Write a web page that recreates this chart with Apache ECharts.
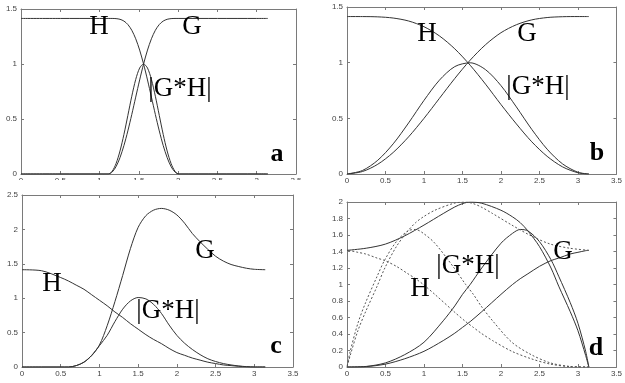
<!DOCTYPE html>
<html><head><meta charset="utf-8">
<script src="https://cdn.jsdelivr.net/npm/echarts@6.0.0/dist/echarts.min.js"></script>
<style>html,body{margin:0;padding:0;background:#fff}#c{width:625px;height:383px}</style>
</head><body><div id="c"></div>
<script>
// ---- Panel a ----
const xA = [0, 0.5, 1.0, 1.11, 1.16, 1.21, 1.26, 1.31, 1.36, 1.41, 1.46, 1.51, 1.56, 1.61, 1.66, 1.71, 1.76, 1.81, 1.86, 1.91, 1.96, 2.01, 2.5, 3.0, 3.1416];
const hA = [1.4142,1.4142,1.4142,1.4142,1.4141,1.4126,1.4063,1.3903,1.3589,1.3066,1.2295,1.1266,1.0,0.8548,0.6989,0.5412,0.3919,0.2589,0.1491,0.0674,0.0177,0,0,0,0];
const gA = [0,0,0,0,0.0177,0.0674,0.1491,0.2589,0.3919,0.5412,0.6989,0.8548,1.0,1.1266,1.2295,1.3066,1.3589,1.3903,1.4063,1.4126,1.4141,1.4142,1.4142,1.4142,1.4142];
const bA = [0,0,0,0,0.0246,0.0953,0.2094,0.3598,0.5326,0.7071,0.8593,0.9631,1,0.9631,0.8593,0.7071,0.5326,0.3598,0.2094,0.0953,0.0246,0,0,0,0];
// ---- Panel b ----
const xB = [0,0.2,0.4,0.6,0.8,1.0,1.2,1.4,1.6,1.8,2.0,2.2,2.4,2.6,2.8,3.0,3.1416];
const hB = [1.4142,1.4140,1.4115,1.4009,1.3743,1.3230,1.2405,1.1242,0.9768,0.8066,0.6241,0.4500,0.2895,0.1586,0.0641,0.0111,0];
const gB = [0,0.0221,0.0876,0.1934,0.3337,0.4996,0.6790,0.8580,1.0226,1.1617,1.2690,1.3407,1.3843,1.4053,1.4128,1.4142,1.4142];
const bB = [0,0.0313,0.1237,0.2709,0.4586,0.6610,0.8424,0.9646,0.9989,0.9370,0.7940,0.6025,0.4008,0.2229,0.0907,0.0157,0];
// ---- Panel c ----
const xC = [0,0.25,0.5,0.6,0.7,0.8,0.9,1.0,1.1,1.2,1.3,1.4,1.5,1.6,1.7,1.8,1.9,2.0,2.1,2.2,2.3,2.4,2.5,2.6,2.7,2.8,2.9,3.0,3.1416];
const hC = [1.414,1.40,1.30,1.25,1.19,1.13,1.05,0.97,0.89,0.80,0.72,0.63,0.55,0.47,0.40,0.34,0.27,0.21,0.17,0.13,0.10,0.07,0.05,0.03,0.02,0.01,0.005,0,0];
const gC = [0,0,0,0,0.02,0.07,0.17,0.32,0.6,0.95,1.33,1.72,2.03,2.2,2.28,2.305,2.28,2.21,2.09,1.94,1.82,1.71,1.61,1.54,1.49,1.46,1.435,1.42,1.414];
const bC = [0,0,0,0,0.02,0.07,0.165,0.31,0.46,0.66,0.84,0.96,1.01,0.99,0.91,0.78,0.61,0.46,0.345,0.255,0.18,0.12,0.08,0.05,0.03,0.015,0.005,0,0];
// ---- Panel d (solid) ----
const xD = [0,0.25,0.5,0.75,1.0,1.25,1.4,1.5,1.6,1.75,2.0,2.15,2.25,2.35,2.5,2.65,2.75,2.9,3.0,3.1,3.1416];
const hD = [1.414,1.44,1.49,1.59,1.72,1.86,1.94,1.98,2.0,1.985,1.9,1.82,1.75,1.65,1.46,1.2,0.98,0.67,0.44,0.14,0];
const gD = [0,0.005,0.035,0.1,0.19,0.32,0.41,0.48,0.55,0.67,0.88,1.0,1.07,1.13,1.22,1.29,1.32,1.37,1.39,1.41,1.414];
const bD = [0,0.007,0.05,0.15,0.3,0.56,0.74,0.88,1.0,1.2,1.5,1.62,1.667,1.65,1.52,1.3,1.1,0.78,0.53,0.19,0];
// ---- Panel d (dotted) ----
const xDd = [3.1416,2.8916,2.6416,2.3916,2.1416,1.8916,1.7416,1.6416,1.5416,1.3916,1.1416,0.9916,0.8916,0.7916,0.6416,0.4916,0.3916,0.2416,0.1416,0.0416,0];
const hDd = [0,0.005,0.035,0.1,0.19,0.32,0.41,0.48,0.55,0.67,0.88,1.0,1.07,1.13,1.22,1.29,1.32,1.37,1.39,1.41,1.414];
const gDd = [1.414,1.44,1.49,1.59,1.72,1.86,1.94,1.98,2.0,1.985,1.9,1.82,1.75,1.65,1.46,1.2,0.98,0.67,0.44,0.14,0];
const bDd = [0,0.007,0.05,0.15,0.3,0.56,0.74,0.88,1.0,1.2,1.5,1.62,1.667,1.65,1.52,1.3,1.1,0.78,0.53,0.19,0];
// axes
const xMax = 3.5, xStep = 0.5;
const yMaxes = [1.5, 1.5, 2.5, 2];
const ySteps = [0.5, 0.5, 0.5, 0.2];

const zip = (xs, ys) => xs.map((x, i) => [x, ys[i]]);
const grids = [
  {left: 21, top: 9, width: 275, height: 165},
  {left: 347, top: 7, width: 272, height: 167},
  {left: 22, top: 195, width: 271, height: 172},
  {left: 347, top: 202, width: 272, height: 165}
];
const axisCol = '#7a7a7a';
const lab = {fontSize: 8, color: '#444', fontFamily: 'Liberation Sans'};
const xAxes = [], yAxes = [];
grids.forEach((g, i) => {
  const common = {gridIndex: i, type: 'value', splitLine: {show: false},
    axisLine: {show: true, onZero: false, lineStyle: {color: axisCol, width: 1}},
    axisTick: {show: true, inside: true, length: 3, lineStyle: {color: axisCol}}};
  xAxes.push(Object.assign({}, common, {position: 'bottom', min: 0, max: xMax, interval: xStep,
    axisLabel: Object.assign({margin: 3, showMinLabel: true, showMaxLabel: true}, lab)}));
  xAxes.push(Object.assign({}, common, {position: 'top', min: 0, max: xMax, interval: xStep, axisLabel: {show: false}}));
  yAxes.push(Object.assign({}, common, {position: 'left', min: 0, max: yMaxes[i], interval: ySteps[i],
    axisLabel: Object.assign({margin: 4, showMinLabel: true, showMaxLabel: true}, lab)}));
  yAxes.push(Object.assign({}, common, {position: 'right', min: 0, max: yMaxes[i], interval: ySteps[i], axisLabel: {show: false}}));
});
function ln(panel, xs, ys, dotted) {
  return {type: 'line', xAxisIndex: panel * 2, yAxisIndex: panel * 2, data: zip(xs, ys),
    showSymbol: false, symbol: 'none', smooth: 0.3, animation: false,
    lineStyle: {color: dotted ? '#555' : '#333', width: 1, type: dotted ? [2, 2] : 'solid'}};
}
const series = [
  ln(0, xA, hA), ln(0, xA, gA), ln(0, xA, bA),
  ln(1, xB, hB), ln(1, xB, gB), ln(1, xB, bB),
  ln(2, xC, hC), ln(2, xC, gC), ln(2, xC, bC),
  ln(3, xD, hD), ln(3, xD, gD), ln(3, xD, bD),
  ln(3, xDd, hDd, true), ln(3, xDd, gDd, true), ln(3, xDd, bDd, true)
];
function txt(s, x, y, bold, size) {
  return {type: 'text', x: x, y: y, z: 50,
    style: {text: s, font: (bold ? 'bold ' : '') + (size || 27) + 'px "Liberation Serif", "Times New Roman", serif',
      fill: '#000', align: 'center', verticalAlign: 'middle', textAlign: 'center', textVerticalAlign: 'middle'}};
}
const graphic = [
  {type: 'rect', z: 40, shape: {x: 0, y: 180, width: 318, height: 12}, style: {fill: '#fff'}},
  txt('H', 99, 27), txt('G', 192, 27), txt('|G*H|', 180, 89), txt('a', 277, 154, true, 26),
  txt('H', 427, 34), txt('G', 527, 34), txt('|G*H|', 538, 87), txt('b', 597, 153, true, 26),
  txt('H', 52, 284), txt('G', 205, 251), txt('|G*H|', 168, 311), txt('c', 276, 346, true, 26),
  txt('H', 420, 289), txt('G', 563, 252), txt('|G*H|', 468, 266), txt('d', 596, 348, true, 26)
];
const chart = echarts.init(document.getElementById('c'), null, {renderer: 'canvas'});
chart.setOption({animation: false, backgroundColor: '#fff', grid: grids, xAxis: xAxes, yAxis: yAxes, series: series, graphic: graphic});
</script></body></html>
